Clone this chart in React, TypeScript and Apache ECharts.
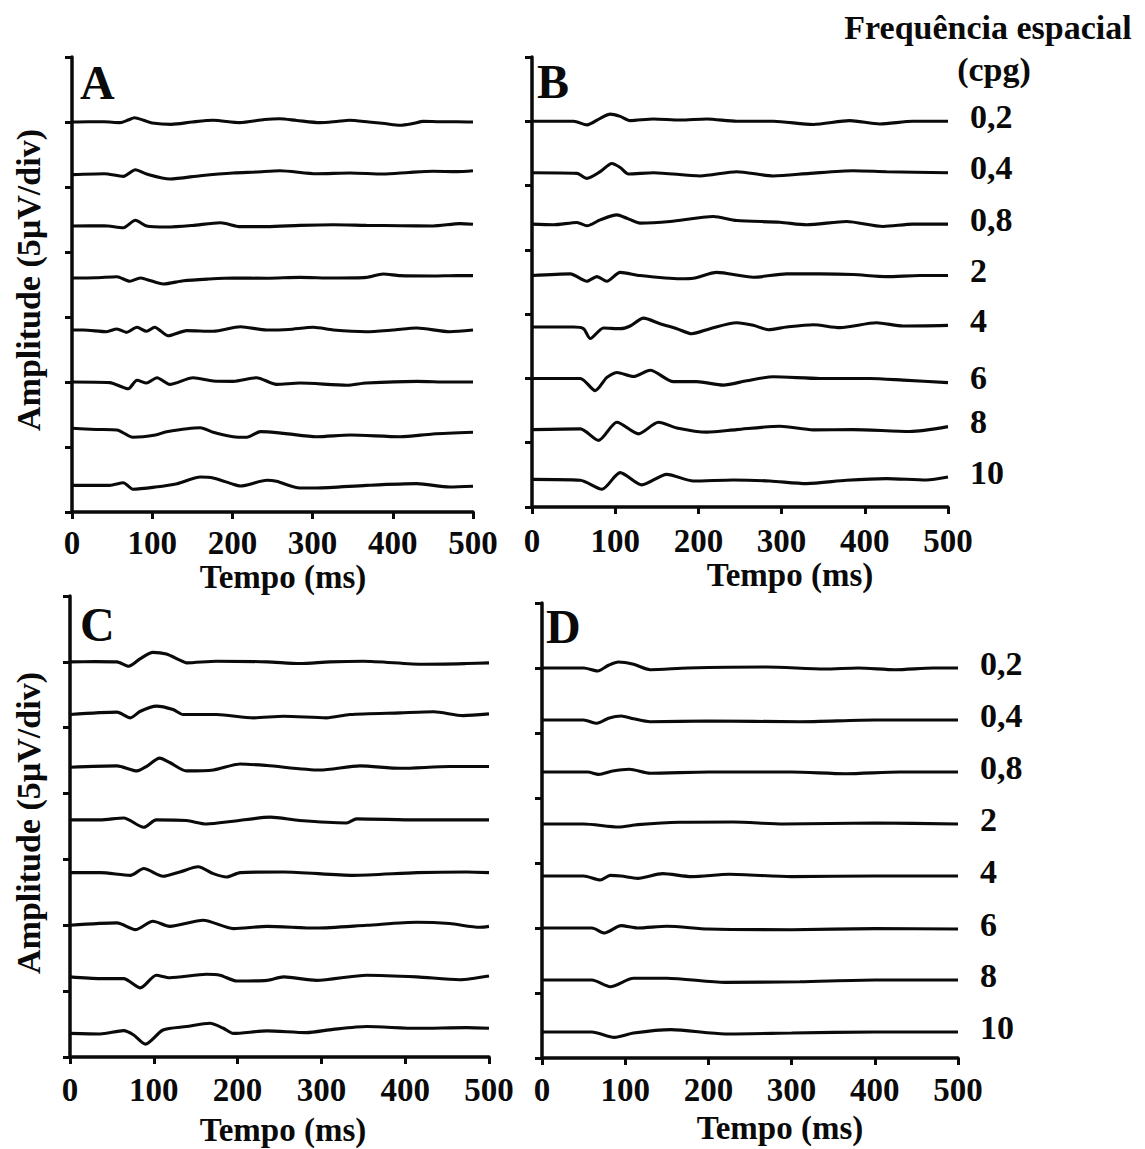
import React, { useEffect, useRef } from "react";
import * as echarts from "echarts";

// Spatial frequencies (cpg), top to bottom
const frequencies = ["0,2", "0,4", "0,8", "2", "4", "6", "8", "10"];
// Baseline (µV) at which each trace is drawn on the 5 µV/div amplitude axis
const offsets = [30, 26, 22, 18, 14, 10, 6, 2];
const timeRange = [0, 500];
const timeStep = 100;
const ampRange = [0, 35];
const ampStep = 5;

type Pt = [number, number]; // [time ms, amplitude µV relative to baseline]

// ---------- Panel A ----------
const A_02: Pt[] = [[0,0],[20,0.02],[40,0.02],[60,-0.05],[70,0.15],[78,0.33],[90,0.12],[100,-0.08],[124,-0.18],[150,0],[176,0.13],[209,-0.05],[240,0.19],[259,0.25],[280,0.12],[309,-0.05],[330,0.04],[346,0.13],[370,0],[390,-0.12],[409,-0.25],[425,-0.12],[438,0.05],[460,0.02],[480,0.02],[500,0]];
const A_04: Pt[] = [[0,-0.05],[40,0.02],[64,-0.18],[79,0.33],[93,0],[122,-0.38],[160,-0.13],[201,0.08],[230,0.15],[259,0.25],[305,0.02],[347,0.08],[388,0],[420,0.12],[450,0.21],[480,0.18],[500,0.25]];
const A_08: Pt[] = [[0,0],[40,0.02],[64,-0.13],[79,0.44],[93,0],[118,-0.08],[150,0.04],[185,0.25],[210,-0.05],[243,-0.05],[284,0.05],[326,0.1],[367,0.05],[410,0.02],[450,0],[484,0.18],[500,0.13]];
const A_2: Pt[] = [[0,0],[30,0.02],[56,0.1],[72,-0.25],[85,0],[95,-0.15],[114,-0.46],[139,-0.21],[170,-0.08],[201,0],[243,-0.02],[284,0.05],[326,0],[367,0.05],[388,0.31],[409,0.18],[450,0.15],[480,0.19],[500,0.18]];
const A_4: Pt[] = [[0,0],[14,0],[43,-0.13],[56,0.08],[68,-0.18],[81,0.21],[93,-0.1],[103,0.21],[120,-0.44],[143,-0.05],[176,-0.1],[210,0.25],[243,0],[270,0.04],[301,0.21],[326,0],[367,-0.13],[400,0],[430,0.15],[471,-0.13],[500,0]];
const A_6: Pt[] = [[0,0],[47,-0.05],[70,-0.52],[81,0.13],[93,-0.08],[106,0.33],[122,-0.18],[151,0.33],[176,0.08],[201,0.05],[230,0.33],[255,-0.18],[284,-0.08],[343,-0.25],[367,-0.08],[430,0.05],[470,0],[500,0]];
const A_8: Pt[] = [[0,0.44],[30,0.35],[56,0.31],[76,-0.25],[104,-0.08],[118,0.18],[160,0.48],[176,0.13],[201,-0.21],[218,-0.25],[235,0.18],[264,0.05],[305,-0.21],[347,-0.08],[409,-0.21],[450,0],[500,0.13]];
const A_10: Pt[] = [[0,0.05],[47,0.05],[64,0.25],[76,-0.25],[104,-0.08],[131,0.18],[160,0.69],[176,0.62],[201,0.13],[210,0],[243,0.44],[255,0.36],[284,-0.15],[305,-0.15],[367,0.05],[430,0.18],[471,-0.08],[500,-0.02]];

// ---------- Panel B ----------
const B_02: Pt[] = [[0,0],[50,0],[66,-0.28],[82,0.23],[94,0.56],[106,0.38],[118,0.05],[146,0.18],[178,0.1],[210,0.18],[246,0],[290,0],[338,-0.25],[382,0.05],[418,-0.21],[458,0],[500,0]];
const B_04: Pt[] = [[0,0],[54,-0.05],[66,-0.44],[82,0.08],[96,0.72],[106,0.41],[116,-0.1],[146,0],[202,-0.25],[246,0.08],[290,-0.25],[334,-0.05],[386,0.15],[426,0.08],[500,0]];
const B_08: Pt[] = [[0,0],[26,-0.05],[54,0.13],[66,-0.13],[82,0.33],[102,0.72],[114,0.46],[130,0.08],[166,0.21],[218,0.59],[246,0.28],[298,0.15],[330,-0.05],[378,0.21],[422,-0.18],[458,0],[500,0]];
const B_2: Pt[] = [[0,0],[46,0.13],[66,-0.44],[78,-0.08],[90,-0.44],[106,0.25],[130,0],[178,-0.25],[194,-0.21],[222,0.25],[266,-0.13],[306,0.13],[346,0.13],[386,0.08],[426,-0.08],[466,0],[500,0]];
const B_4: Pt[] = [[0,0],[50,0],[62,-0.13],[70,-0.9],[86,-0.08],[106,-0.13],[118,0.08],[134,0.69],[154,0.25],[174,-0.13],[192,-0.52],[214,-0.13],[246,0.33],[266,0.13],[284,-0.21],[306,0],[338,0.18],[370,-0.05],[414,0.33],[446,0.08],[500,0.13]];
const B_6: Pt[] = [[0,0],[58,0],[76,-0.95],[90,0.08],[102,0.46],[122,0.15],[142,0.64],[170,-0.25],[198,-0.25],[230,-0.52],[258,-0.18],[290,0.13],[346,0],[406,0],[446,-0.13],[500,-0.33]];
const B_8: Pt[] = [[0,0.02],[58,0.08],[80,-0.82],[102,0.59],[128,-0.31],[152,0.59],[174,0.15],[210,-0.18],[246,0.02],[298,0.28],[338,0],[386,0.02],[454,-0.13],[500,0.25]];
const B_10: Pt[] = [[0,0.15],[58,0.08],[84,-0.62],[106,0.67],[132,-0.28],[162,0.54],[194,0.02],[242,0.1],[286,0.02],[330,-0.18],[378,0.08],[426,0.21],[474,0.1],[500,0.33]];

// ---------- Panel C ----------
const C_02: Pt[] = [[0,0],[30,0.02],[56,0],[70,-0.33],[84,0.25],[99,0.72],[115,0.59],[131,0.13],[139,-0.08],[175,0.05],[235,0],[274,-0.13],[310,0],[350,0.05],[422,-0.18],[473,-0.13],[500,-0.08]];
const C_04: Pt[] = [[0,0],[56,0.18],[72,-0.25],[84,0.25],[103,0.64],[123,0.38],[135,0],[175,0],[219,-0.25],[255,-0.13],[306,-0.25],[334,0],[394,0.13],[434,0.21],[469,-0.08],[500,0.05]];
const C_08: Pt[] = [[0,0],[56,0.1],[80,-0.28],[91,0.05],[107,0.69],[119,0.36],[139,-0.28],[171,-0.21],[203,0.25],[235,0.13],[298,-0.21],[346,0.1],[394,-0.08],[453,0.05],[500,0.05]];
const C_2: Pt[] = [[0,0],[36,0],[64,0.15],[88,-0.56],[103,0],[139,-0.05],[163,-0.31],[195,-0.1],[239,0.21],[274,-0.05],[330,-0.23],[342,0.08],[414,0],[500,0]];
const C_4: Pt[] = [[0,0],[36,0],[72,-0.21],[88,0.31],[111,-0.28],[131,0.05],[153,0.44],[171,-0.08],[187,-0.33],[203,0],[255,0.05],[338,-0.21],[414,0],[473,0.05],[500,0]];
const C_6: Pt[] = [[0,0],[56,0.18],[78,-0.33],[99,0.31],[119,-0.08],[159,0.38],[195,-0.25],[235,-0.08],[294,-0.21],[354,0],[414,0.23],[453,0.13],[489,-0.15],[500,-0.08]];
const C_8: Pt[] = [[0,0.08],[36,-0.05],[64,-0.05],[84,-0.75],[103,0.21],[119,0.02],[163,0.28],[179,0.21],[199,-0.23],[235,-0.18],[255,0.08],[294,-0.18],[354,0.21],[414,0.08],[465,-0.13],[500,0.15]];
const C_10: Pt[] = [[0,-0.21],[36,-0.25],[64,0],[76,-0.33],[90,-1.02],[111,0.05],[139,0.31],[167,0.56],[183,0.18],[195,-0.21],[235,-0.02],[282,-0.15],[314,0.1],[354,0.31],[414,0.18],[473,0.23],[500,0.18]];

// ---------- Panel D ----------
const D_02: Pt[] = [[0,0],[50,0],[67,-0.23],[80,0.21],[92,0.46],[110,0.28],[130,-0.13],[175,0],[270,0.08],[340,-0.08],[380,0],[425,-0.13],[470,0],[500,0]];
const D_04: Pt[] = [[0,0],[50,0],[66,-0.25],[80,0.13],[95,0.31],[110,0.1],[130,-0.13],[200,-0.08],[310,-0.13],[400,0],[500,0]];
const D_08: Pt[] = [[0,0],[55,0],[68,-0.18],[85,0.08],[105,0.21],[130,-0.1],[200,0],[300,0],[365,-0.13],[430,0],[500,0]];
const D_2: Pt[] = [[0,0],[50,0],[92,-0.23],[115,-0.05],[165,0.13],[230,0.15],[290,0],[400,0.08],[500,0]];
const D_4: Pt[] = [[0,0],[50,0],[70,-0.31],[82,0.05],[95,0],[115,-0.18],[145,0.18],[180,-0.05],[225,0.13],[300,-0.05],[400,0],[500,0]];
const D_6: Pt[] = [[0,0],[60,0],[75,-0.38],[95,0.18],[115,0],[150,0.13],[200,-0.08],[300,-0.13],[400,-0.05],[500,-0.08]];
const D_8: Pt[] = [[0,0],[60,0],[82,-0.52],[110,0.13],[150,0.13],[220,-0.18],[310,-0.13],[400,0],[500,0]];
const D_10: Pt[] = [[0,0],[60,0],[87,-0.41],[110,-0.08],[155,0.18],[220,-0.15],[300,-0.08],[400,0],[500,0]];

const panelA = [A_02, A_04, A_08, A_2, A_4, A_6, A_8, A_10];
const panelB = [B_02, B_04, B_08, B_2, B_4, B_6, B_8, B_10];
const panelC = [C_02, C_04, C_08, C_2, C_4, C_6, C_8, C_10];
const panelD = [D_02, D_04, D_08, D_2, D_4, D_6, D_8, D_10];

const FONT = "'Liberation Serif', 'Times New Roman', serif";
const INK = "#0a0a0a";

const grids = [
  { left: 72, top: 57, width: 401, height: 455, labelMargin: 14 },
  { left: 532, top: 57, width: 416, height: 450, labelMargin: 17 },
  { left: 70, top: 596, width: 419, height: 461, labelMargin: 16 },
  { left: 542, top: 603, width: 416, height: 455, labelMargin: 15 },
];

function buildSeries(traces: Pt[][], idx: number, withLabels: boolean) {
  return traces.map((pts, i) => ({
    type: "line",
    name: frequencies[i],
    xAxisIndex: idx,
    yAxisIndex: idx,
    data: pts.map(([t, v]) => [t, v + offsets[i]]),
    symbol: "none",
    showSymbol: false,
    smooth: 0.25,
    silent: true,
    lineStyle: { color: INK, width: 3.1 },
    endLabel: withLabels
      ? {
          show: true,
          formatter: () => frequencies[i],
          distance: 22,
          offset: [0, -5],
          fontSize: 34,
          fontWeight: "bold",
          fontFamily: FONT,
          color: INK,
        }
      : { show: false },
  }));
}

function txt(text: string, x: number, y: number, size: number, extra: any = {}) {
  return {
    type: "text",
    x,
    y,
    ...extra,
    style: {
      text,
      fontSize: size,
      fontWeight: "bold",
      fontFamily: FONT,
      fill: INK,
      align: extra.align || "center",
      verticalAlign: "middle",
    },
  };
}

export default function App() {
  const ref = useRef<HTMLDivElement>(null);

  useEffect(() => {
    if (!ref.current) return;
    const chart = echarts.init(ref.current, undefined, { renderer: "svg" });
    const axisLine = { lineStyle: { color: INK, width: 3.5 } };
    const option = {
      animation: false,
      backgroundColor: "#fff",
      grid: grids.map((g) => ({ left: g.left, top: g.top, width: g.width, height: g.height })),
      xAxis: grids.map((g, i) => ({
        type: "value",
        gridIndex: i,
        min: timeRange[0],
        max: timeRange[1],
        interval: timeStep,
        axisLine: { show: true, onZero: false, ...axisLine },
        axisTick: { show: true, length: 7, lineStyle: { color: INK, width: 3 } },
        axisLabel: {
          show: true,
          margin: g.labelMargin,
          fontSize: 33,
          fontWeight: "bold",
          fontFamily: FONT,
          color: INK,
        },
        splitLine: { show: false },
      })),
      yAxis: grids.map((_, i) => ({
        type: "value",
        gridIndex: i,
        min: ampRange[0],
        max: ampRange[1],
        interval: ampStep,
        axisLine: { show: true, onZero: false, ...axisLine },
        axisTick: { show: true, length: 7, lineStyle: { color: INK, width: 3 } },
        axisLabel: { show: false },
        splitLine: { show: false },
      })),
      series: [
        ...buildSeries(panelA, 0, false),
        ...buildSeries(panelB, 1, true),
        ...buildSeries(panelC, 2, false),
        ...buildSeries(panelD, 3, true),
      ],
      graphic: [
        txt("A", 80, 82, 48, { align: "left" }),
        txt("B", 537, 81, 48, { align: "left" }),
        txt("C", 80, 624, 48, { align: "left" }),
        txt("D", 546, 626, 48, { align: "left" }),
        txt("Frequência espacial", 988, 27, 34),
        txt("(cpg)", 994, 69, 34),
        txt("Tempo (ms)", 283, 577, 33),
        txt("Tempo (ms)", 790, 575, 33),
        txt("Tempo (ms)", 283, 1130, 33),
        txt("Tempo (ms)", 780, 1128, 33),
        txt("Amplitude (5µV/div)", 28, 280, 34, { rotation: Math.PI / 2 }),
        txt("Amplitude (5µV/div)", 28, 823, 34, { rotation: Math.PI / 2 }),
      ],
    };
    chart.setOption(option as any);
    return () => chart.dispose();
  }, []);

  return (
    <div
      ref={ref}
      style={{ position: "absolute", left: 0, top: 0, width: 1145, height: 1149, background: "#fff" }}
    />
  );
}
